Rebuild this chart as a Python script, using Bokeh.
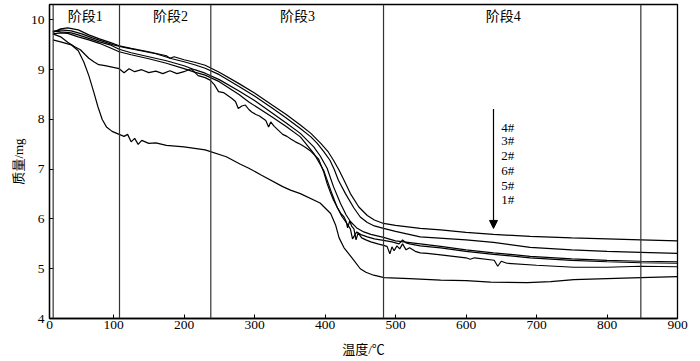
from bokeh.plotting import figure
from bokeh.models import Range1d, FixedTicker, Span, Arrow, NormalHead, ColumnDataSource
from bokeh.core.properties import value
from bokeh.embed import file_html
from bokeh.resources import INLINE

# ---- data ----
x_ticks = [9.2, 100, 200, 300, 400, 500, 600, 700, 800, 900]
x_tick_labels = ["0", "100", "200", "300", "400", "500", "600", "700", "800", "900"]
y_ticks = [4, 5, 6, 7, 8, 9, 10]
stage_bounds = [14.4, 108.5, 238, 483, 848]
stage_names = ["阶段1", "阶段2", "阶段3", "阶段4"]
stage_name_x = [60, 181, 361, 653]
stage_name_y = [10.06, 10.06, 10.06, 10.06]
legend_names = ["4#", "3#", "2#", "6#", "5#", "1#"]
legend_x = [650, 650, 650, 650, 650, 650]
legend_y = [7.84, 7.57, 7.27, 6.98, 6.68, 6.39]
arrow_x = 639
arrow_y_start = 8.21
arrow_y_end = 5.81

# sample 1#
x1 = [14, 25, 40, 50, 58, 65, 72, 78, 84, 90, 98, 108, 115, 120, 125, 130, 135, 140, 150, 160, 175,
      200, 230, 260, 280, 292, 310, 340, 351, 365, 393, 408, 415, 420, 427, 441, 450, 458, 469, 484,
      520, 564, 600, 635, 687, 720, 753, 800, 848, 900]
y1 = [9.60, 9.56, 9.50, 9.38, 9.15, 8.88, 8.55, 8.25, 8.00, 7.85, 7.76, 7.70, 7.66, 7.70, 7.55, 7.62,
      7.50, 7.58, 7.52, 7.53, 7.48, 7.45, 7.39, 7.25, 7.10, 7.02, 6.88, 6.65, 6.58, 6.51, 6.32, 6.11,
      5.88, 5.62, 5.42, 5.17, 5.00, 4.93, 4.87, 4.82, 4.80, 4.77, 4.76, 4.73, 4.72, 4.74, 4.78, 4.80,
      4.82, 4.84]

# sample 5#
x5 = [14, 25, 35, 45, 53, 60, 65, 72, 79, 88, 98, 108, 115, 122, 130, 140, 150, 160, 170, 180,
      190, 200, 210, 220, 230, 237, 243, 249, 256, 262, 268, 273, 277, 282, 287, 292, 296, 302, 307, 311,
      316, 320, 323, 328, 334, 340, 346, 352, 358, 365, 372, 380, 391, 398, 403, 408, 412, 418, 423, 427,
      430, 432, 435, 438, 441, 444, 447, 452, 458, 465, 475, 483, 488, 492, 495, 498, 502, 506, 510, 515,
      520, 528, 535, 545, 564, 600, 606, 612, 640, 645, 650, 658, 700, 753, 800, 848, 900]
y5 = [9.72, 9.66, 9.55, 9.46, 9.40, 9.30, 9.23, 9.16, 9.10, 9.08, 9.05, 9.02, 8.94, 9.02, 8.96, 9.00,
      8.94, 8.97, 8.92, 8.98, 8.92, 8.96, 9.02, 8.88, 8.84, 8.79, 8.70, 8.56, 8.54, 8.48, 8.42, 8.36,
      8.22, 8.27, 8.29, 8.20, 8.15, 8.10, 8.07, 8.03, 7.98, 7.85, 7.95, 7.86, 7.78, 7.70, 7.66, 7.60,
      7.55, 7.50, 7.44, 7.36, 7.20, 6.95, 6.71, 6.52, 6.38, 6.22, 6.10, 6.04, 5.95, 5.82, 5.96, 5.85,
      5.80, 5.58, 5.72, 5.62, 5.58, 5.54, 5.50, 5.47, 5.45, 5.30, 5.44, 5.36, 5.46, 5.40, 5.50, 5.38,
      5.42, 5.35, 5.32, 5.31, 5.28, 5.22, 5.19, 5.22, 5.17, 5.05, 5.15, 5.11, 5.07, 5.03, 5.03, 5.05, 5.04]

# sample 6#
x6 = [14, 25, 35, 50, 65, 80, 95, 108, 125, 150, 175, 200, 215, 230, 250, 278, 292, 325, 345, 365,
      384, 398, 408, 417, 424, 431, 436, 439, 445, 452, 460, 470, 483, 495, 505, 510, 515, 520, 535,
      564, 600, 639, 691, 750, 800, 848, 900]
y6 = [9.72, 9.74, 9.73, 9.66, 9.60, 9.53, 9.44, 9.36, 9.30, 9.22, 9.13, 9.02, 8.95, 8.89, 8.76, 8.50,
      8.35, 8.05, 7.86, 7.65, 7.32, 6.98, 6.58, 6.24, 6.05, 5.91, 5.80, 5.60, 5.74, 5.68, 5.64, 5.60,
      5.57, 5.54, 5.50, 5.58, 5.52, 5.50, 5.46, 5.42, 5.35, 5.29, 5.22, 5.17, 5.14, 5.12, 5.11]

# sample 2#
x2 = [14, 25, 40, 50, 65, 80, 95, 108, 125, 150, 175, 200, 215, 230, 250, 278, 300, 325, 345, 365,
      384, 393, 403, 412, 422, 430, 436, 445, 455, 465, 483, 500, 535, 564, 600, 639, 691, 750, 800,
      848, 900]
y2 = [9.78, 9.76, 9.74, 9.70, 9.63, 9.56, 9.50, 9.41, 9.34, 9.26, 9.18, 9.08, 9.00, 8.93, 8.80, 8.57,
      8.38, 8.13, 7.93, 7.72, 7.45, 7.27, 7.02, 6.65, 6.31, 6.08, 5.95, 5.82, 5.74, 5.69, 5.63, 5.56,
      5.50, 5.45, 5.38, 5.32, 5.25, 5.20, 5.17, 5.15, 5.14]

# sample 3#
x3 = [14, 25, 40, 55, 70, 85, 100, 115, 135, 160, 183, 200, 215, 230, 250, 278, 300, 325, 345, 365,
      380, 389, 398, 407, 413, 419, 429, 441, 450, 460, 470, 483, 500, 535, 600, 639, 691, 750, 800,
      848, 900]
y3 = [9.76, 9.80, 9.78, 9.72, 9.64, 9.57, 9.50, 9.45, 9.39, 9.32, 9.22, 9.16, 9.10, 9.03, 8.90, 8.66,
      8.47, 8.23, 8.03, 7.82, 7.65, 7.52, 7.36, 7.18, 7.00, 6.78, 6.51, 6.22, 6.04, 5.93, 5.86, 5.81,
      5.75, 5.64, 5.58, 5.53, 5.43, 5.38, 5.35, 5.33, 5.31]

# sample 4#
x4 = [14, 25, 35, 50, 65, 80, 95, 108, 125, 150, 175, 180, 186, 200, 215, 230, 250, 278, 300, 325,
      345, 365, 380, 394, 404, 412, 420, 427, 436, 448, 460, 470, 483, 500, 535, 564, 600, 639, 691,
      750, 800, 848, 900]
y4 = [9.75, 9.82, 9.84, 9.80, 9.70, 9.62, 9.55, 9.48, 9.43, 9.36, 9.28, 9.23, 9.26, 9.20, 9.15, 9.09,
      8.95, 8.72, 8.53, 8.29, 8.10, 7.89, 7.72, 7.52, 7.36, 7.18, 6.98, 6.78, 6.51, 6.24, 6.07, 5.98,
      5.91, 5.87, 5.81, 5.78, 5.73, 5.69, 5.65, 5.62, 5.60, 5.58, 5.56]

series = [(x1, y1), (x5, y5), (x6, y6), (x2, y2), (x3, y3), (x4, y4)]
for xs, ys in series:
    assert len(xs) == len(ys), (len(xs), len(ys))

FONT = "Liberation Serif, Noto Sans CJK SC"

p = figure(width=700, height=361, output_backend="svg", toolbar_location=None,
           x_range=Range1d(9.2, 900), y_range=Range1d(4, 10.31),
           min_border_left=49, min_border_right=23, min_border_top=4, min_border_bottom=43)
p.background_fill_color = "white"
p.border_fill_color = "white"
p.outline_line_color = "black"
p.outline_line_width = 1.3
p.xgrid.visible = False
p.ygrid.visible = False

p.xaxis.ticker = FixedTicker(ticks=x_ticks)
p.xaxis.major_label_overrides = {t: s for t, s in zip(x_ticks, x_tick_labels)}
p.yaxis.ticker = FixedTicker(ticks=y_ticks)
for ax in (p.xaxis, p.yaxis):
    ax.axis_line_color = "black"
    ax.axis_line_width = 1.3
    ax.major_tick_in = 4
    ax.major_tick_out = 0
    ax.minor_tick_line_color = None
    ax.major_tick_line_color = "black"
    ax.major_label_text_font = FONT
    ax.major_label_text_font_size = "13.5px"
    ax.major_label_text_color = "black"
    ax.axis_label_text_font = FONT
    ax.axis_label_text_font_size = "13px"
    ax.axis_label_text_font_style = "normal"
    ax.axis_label_text_color = "black"
p.xaxis.axis_label = "温度/℃"
p.yaxis.axis_label = "质量/mg"
p.xaxis.major_label_standoff = 2
p.xaxis.axis_label_standoff = 10
p.yaxis.major_label_standoff = 5
p.yaxis.axis_label_standoff = 2

for b in stage_bounds:
    p.add_layout(Span(location=b, dimension="height", line_color="#333333", line_width=1.2))

for xs, ys in series:
    p.line(xs, ys, line_color="black", line_width=1.2)

stage_src = ColumnDataSource(dict(x=stage_name_x, y=stage_name_y, t=stage_names))
p.text(x="x", y="y", text="t", source=stage_src, text_font=value(FONT), text_font_size="14px",
       text_align="center", text_baseline="middle", text_color="black")

leg_src = ColumnDataSource(dict(x=legend_x, y=legend_y, t=legend_names))
p.text(x="x", y="y", text="t", source=leg_src, text_font=value(FONT), text_font_size="13px",
       text_align="left", text_baseline="middle", text_color="black")

p.add_layout(Arrow(x_start=arrow_x, y_start=arrow_y_start, x_end=arrow_x, y_end=arrow_y_end,
                   line_color="black", line_width=1.2,
                   end=NormalHead(size=8, fill_color="black", line_color="black", line_width=1)))

open("out.html", "w").write(file_html(p, INLINE))
